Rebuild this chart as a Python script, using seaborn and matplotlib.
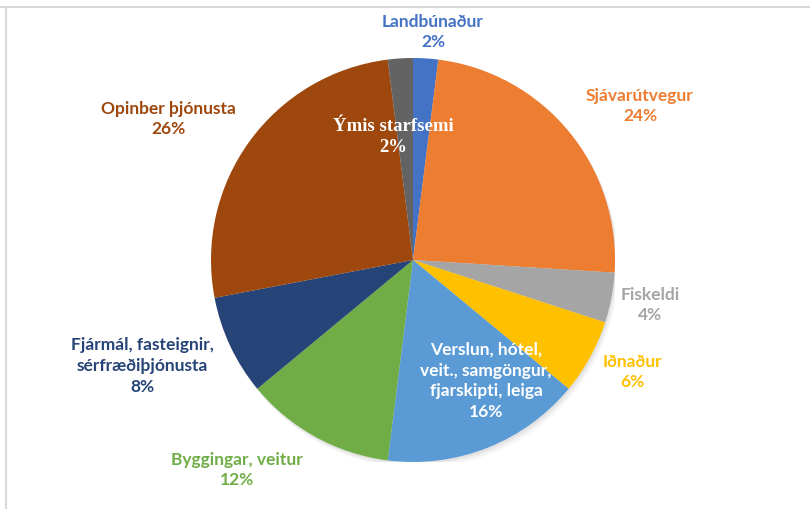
import matplotlib.pyplot as plt
import seaborn as sns
from matplotlib.lines import Line2D
from matplotlib.patches import Circle


# Data
categories = [
    "Landbúnaður",
    "Sjávarútvegur",
    "Fiskeldi",
    "Iðnaður",
    "Verslun, hótel,\nveit., samgöngur,\nfjarskipti, leiga",
    "Byggingar, veitur",
    "Fjármál, fasteignir,\nsérfræðiþjónusta",
    "Opinber þjónusta",
    "Ýmis starfsemi",
]
shares = [2, 24, 4, 6, 16, 12, 8, 26, 2]

colors = ["#4472C4", "#ED7D31", "#A5A5A5", "#FFC000", "#5B9BD5",
          "#70AD47", "#264478", "#9E480E", "#636363"]
text_colors = ["#4472C4", "#ED7D31", "#A5A5A5", "#FFC000", "white",
               "#70AD47", "#264478", "#9E480E", "white"]

# label centres in pixels (x, y from top)
label_px = [(433, 32), (640, 106), (650, 305), (632, 372), (486, 381),
            (237, 470), (142, 366), (168, 119), (393, 137)]

sns.set_theme(style="white")
plt.rcParams["font.family"] = ["Lato", "DejaVu Sans"]

W, H = 810, 509
cx, cy, r = 413, 260, 202

fig = plt.figure(figsize=(W / 100, H / 100), dpi=100)
ax = fig.add_axes([(cx - r) / W, (H - cy - r) / H, 2 * r / W, 2 * r / H])

# soft shadow behind the pie
for k, a in enumerate([0.10, 0.08, 0.06]):
    ax.add_patch(Circle((0.006 * (k + 1), -0.01 * (k + 1)), 1.0,
                        color="gray", alpha=a, lw=0, zorder=0))

ax.pie(
    shares,
    colors=colors,
    startangle=90,
    counterclock=False,
    radius=1,
    wedgeprops={"linewidth": 0, "zorder": 1},
)
ax.set_xlim(-1, 1)
ax.set_ylim(-1, 1)
ax.set_axis_off()

# Labels
for i, (name, val) in enumerate(zip(categories, shares)):
    px, py = label_px[i]
    x = (px - cx) / r
    y = (cy - py) / r
    if name == "Ýmis starfsemi":
        fam, fs = ["Liberation Serif", "DejaVu Serif"], 13.5
    else:
        fam, fs = ["Lato", "DejaVu Sans"], 12.5
    ax.text(x, y, f"{name}\n{val}%", ha="center", va="center",
            color=text_colors[i], fontsize=fs, fontweight="bold",
            family=fam, linespacing=1.38, clip_on=False, zorder=5)

# Frame lines (top and left)
fig.add_artist(Line2D([0, 1], [1 - 6.5 / H, 1 - 6.5 / H],
                      transform=fig.transFigure, color="#D9D9D9", lw=1.5))
fig.add_artist(Line2D([6 / W, 6 / W], [0, 1 - 6.5 / H],
                      transform=fig.transFigure, color="#D9D9D9", lw=1.5))

fig.savefig("out.png", dpi=100, facecolor="white")
